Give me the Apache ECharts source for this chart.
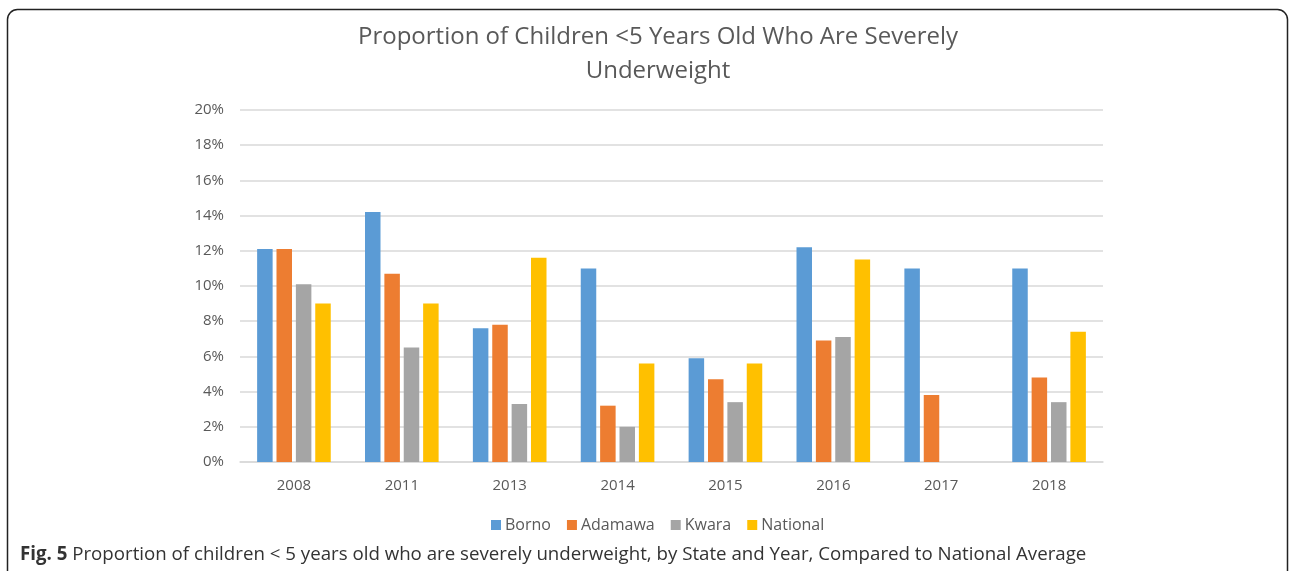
<!DOCTYPE html>
<html>
<head>
<meta charset="utf-8">
<script src="https://cdn.jsdelivr.net/npm/echarts@6/dist/echarts.min.js"></script>
<style>
  html, body { margin: 0; padding: 0; background: #fff; }
  #chart { width: 1290px; height: 571px; }
</style>
</head>
<body>
<div id="chart"></div>
<script>
// categories and values (percent)
var years = ['2008', '2011', '2013', '2014', '2015', '2016', '2017', '2018']
var borno = [12.1, 14.2, 7.6, 11.0, 5.9, 12.2, 11.0, 11.0]
var adamawa = [12.1, 10.7, 7.8, 3.2, 4.7, 6.9, 3.8, 4.8]
var kwara = [10.1, 6.5, 3.3, 2.0, 3.4, 7.1, null, 3.4]
var national = [9.0, 9.0, 11.6, 5.6, 5.6, 11.5, null, 7.4]

var seriesNames = ['Borno', 'Adamawa', 'Kwara', 'National']
var seriesColors = ['#5b9bd5', '#ed7d31', '#a5a5a5', '#ffc000']
var seriesData = [borno, adamawa, kwara, national]

var font = '"Open Sans", "Noto Sans", sans-serif'

var chart = echarts.init(document.getElementById('chart'))

chart.setOption({
  animation: false,
  textStyle: { fontFamily: font },
  title: {
    text: 'Proportion of Children <5 Years Old Who Are Severely\nUnderweight',
    left: 653,
    textAlign: 'center',
    top: 15,
    textStyle: {
      fontFamily: font,
      fontSize: 24,
      fontWeight: 'normal',
      color: '#595959',
      lineHeight: 34
    }
  },
  legend: {
    data: seriesNames,
    left: 486,
    top: 512,
    itemWidth: 10,
    itemHeight: 10,
    itemGap: 16,
    icon: 'rect',
    textStyle: { fontFamily: font, fontSize: 16, color: '#595959', padding: [0, 0, 0, -1] }
  },
  grid: {
    left: 240,
    right: 187,
    top: 110,
    bottom: 109
  },
  xAxis: {
    type: 'category',
    data: years,
    axisTick: { show: false },
    axisLine: { lineStyle: { color: '#d9d9d9', width: 1.5 } },
    axisLabel: { fontSize: 15, color: '#595959', margin: 16, fontFamily: font }
  },
  yAxis: {
    type: 'value',
    min: 0,
    max: 20,
    interval: 2,
    axisLine: { show: false },
    axisTick: { show: false },
    axisLabel: {
      fontSize: 15,
      color: '#595959',
      margin: 16,
      fontFamily: font,
      formatter: '{value}%'
    },
    splitLine: { lineStyle: { color: '#d9d9d9', width: 1.5 } }
  },
  series: seriesNames.map(function (name, i) {
    return {
      name: name,
      type: 'bar',
      data: seriesData[i],
      barWidth: 15.5,
      barGap: '25%',
      itemStyle: { color: seriesColors[i] }
    }
  }),
  graphic: [
    {
      type: 'rect',
      shape: { x: 7.5, y: 9.5, width: 1280, height: 600, r: 10 },
      style: { fill: 'none', stroke: '#222', lineWidth: 1.5 },
      silent: true
    },
    {
      type: 'text',
      left: 20,
      top: 545,
      style: {
        text: '{b|Fig. 5} Proportion of children < 5 years old who are severely underweight, by State and Year, Compared to National Average',
        fontFamily: font,
        fontSize: 18.7,
        fill: '#333',
        rich: {
          b: { fontFamily: font, fontSize: 18.7, fontWeight: 'bold', fill: '#333' }
        }
      }
    }
  ]
})
</script>
</body>
</html>
